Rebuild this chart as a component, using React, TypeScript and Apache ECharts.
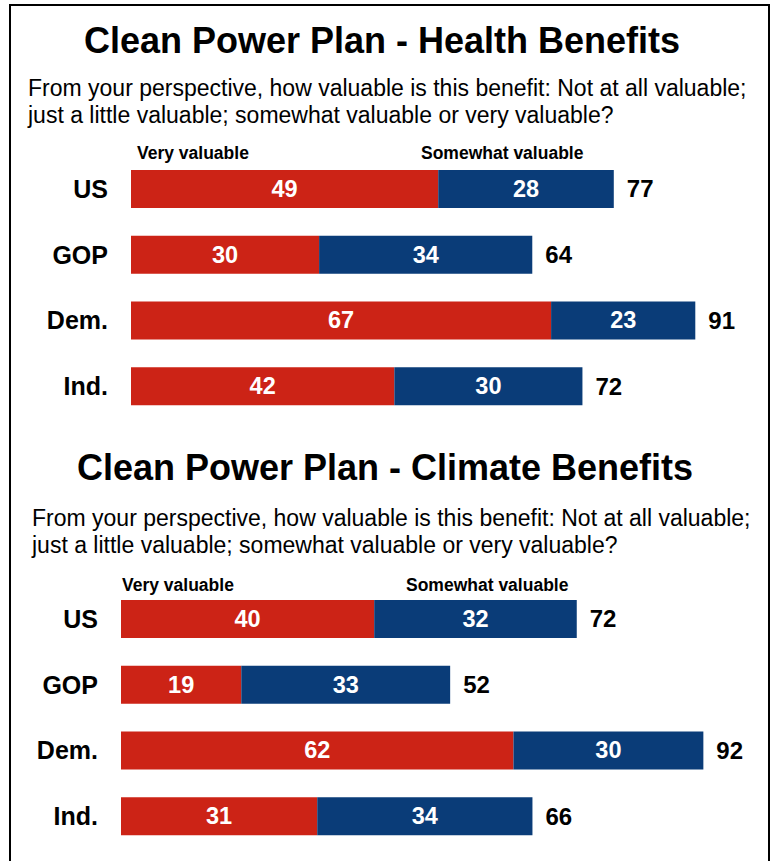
import React, { useEffect, useRef } from "react";
import * as echarts from "echarts";

const categories = ["US", "GOP", "Dem.", "Ind."];
const healthVery = [49, 30, 67, 42];
const healthSomewhat = [28, 34, 23, 30];
const healthTotals = [77, 64, 91, 72];
const climateVery = [40, 19, 62, 31];
const climateSomewhat = [32, 33, 30, 34];
const climateTotals = [72, 52, 92, 66];

const healthTitle = "Clean Power Plan - Health Benefits";
const climateTitle = "Clean Power Plan - Climate Benefits";
const questionLines = [
  "From your perspective, how valuable is this benefit: Not at all valuable;",
  "just a little valuable; somewhat valuable or very valuable?",
];
const legendVery = "Very valuable";
const legendSomewhat = "Somewhat valuable";

const RED = "#CC2316";
const BLUE = "#0A3C78";
const FONT = "'Liberation Sans', Arial, sans-serif";

export default function App() {
  const ref = useRef<HTMLDivElement>(null);
  useEffect(() => {
    if (!ref.current) return;
    const chart = echarts.init(ref.current, undefined, { renderer: "svg" });

    const segLabel = {
      show: true,
      position: "inside",
      color: "#fff",
      fontWeight: "bold",
      fontSize: 23.5,
      fontFamily: FONT,
    };

    const makeSeries = (idx: number, very: number[], some: number[], totals: number[]) => [
      {
        type: "bar",
        name: legendVery,
        xAxisIndex: idx,
        yAxisIndex: idx,
        stack: "s" + idx,
        barWidth: 38,
        data: very,
        itemStyle: { color: RED },
        label: segLabel,
      },
      {
        type: "bar",
        name: legendSomewhat,
        xAxisIndex: idx,
        yAxisIndex: idx,
        stack: "s" + idx,
        barWidth: 38,
        data: some,
        itemStyle: { color: BLUE },
        label: segLabel,
      },
      {
        type: "scatter",
        xAxisIndex: idx,
        yAxisIndex: idx,
        symbolSize: 0,
        itemStyle: { opacity: 1 },
        data: very.map((v, i) => [v + some[i], categories[i]]),
        label: {
          show: true,
          position: "right",
          distance: 13,
          color: "#000",
          opacity: 1,
          fontWeight: "bold",
          fontSize: 24,
          fontFamily: FONT,
          formatter: (p: any) => String(totals[p.dataIndex]),
        },
      },
    ];

    const yAxis = (idx: number) => ({
      type: "category",
      gridIndex: idx,
      data: categories,
      inverse: true,
      axisLine: { show: false },
      axisTick: { show: false },
      axisLabel: {
        color: "#000",
        fontWeight: "bold",
        fontSize: 25,
        fontFamily: FONT,
        margin: 23,
      },
    });
    const xAxis = (idx: number) => ({
      type: "value",
      gridIndex: idx,
      min: 0,
      max: 100,
      show: false,
    });

    const textEl = (text: string, x: number, y: number, size: number, bold: boolean, align: string) => ({
      type: "text",
      x,
      y,
      style: {
        text,
        fill: "#000",
        fontSize: size,
        fontWeight: bold ? "bold" : "normal",
        fontFamily: FONT,
        textAlign: align,
        textVerticalAlign: "middle",
      },
    });

    chart.setOption({
      animation: false,
      grid: [
        { left: 131, width: 627, top: 156, height: 263 },
        { left: 121, width: 633, top: 586, height: 263 },
      ],
      xAxis: [xAxis(0), xAxis(1)],
      yAxis: [yAxis(0), yAxis(1)],
      series: [
        ...makeSeries(0, healthVery, healthSomewhat, healthTotals),
        ...makeSeries(1, climateVery, climateSomewhat, climateTotals),
      ],
      graphic: [
        {
          type: "rect",
          shape: { x: 10, y: 5, width: 759, height: 900 },
          style: { fill: "none", stroke: "#000", lineWidth: 2 },
        },
        textEl(healthTitle, 382, 40, 36, true, "center"),
        textEl(questionLines[0], 28, 88, 23, false, "left"),
        textEl(questionLines[1], 28, 115, 23, false, "left"),
        textEl(legendVery, 137, 153, 17.5, true, "left"),
        textEl(legendSomewhat, 421, 153, 17.5, true, "left"),
        textEl(climateTitle, 385, 467, 36, true, "center"),
        textEl(questionLines[0], 32, 518, 23, false, "left"),
        textEl(questionLines[1], 32, 545, 23, false, "left"),
        textEl(legendVery, 122, 585, 17.5, true, "left"),
        textEl(legendSomewhat, 406, 585, 17.5, true, "left"),
      ],
    });
    return () => chart.dispose();
  }, []);
  return (
    <div
      ref={ref}
      style={{ position: "fixed", left: 0, top: 0, width: 773, height: 861, background: "#fff" }}
    />
  );
}
